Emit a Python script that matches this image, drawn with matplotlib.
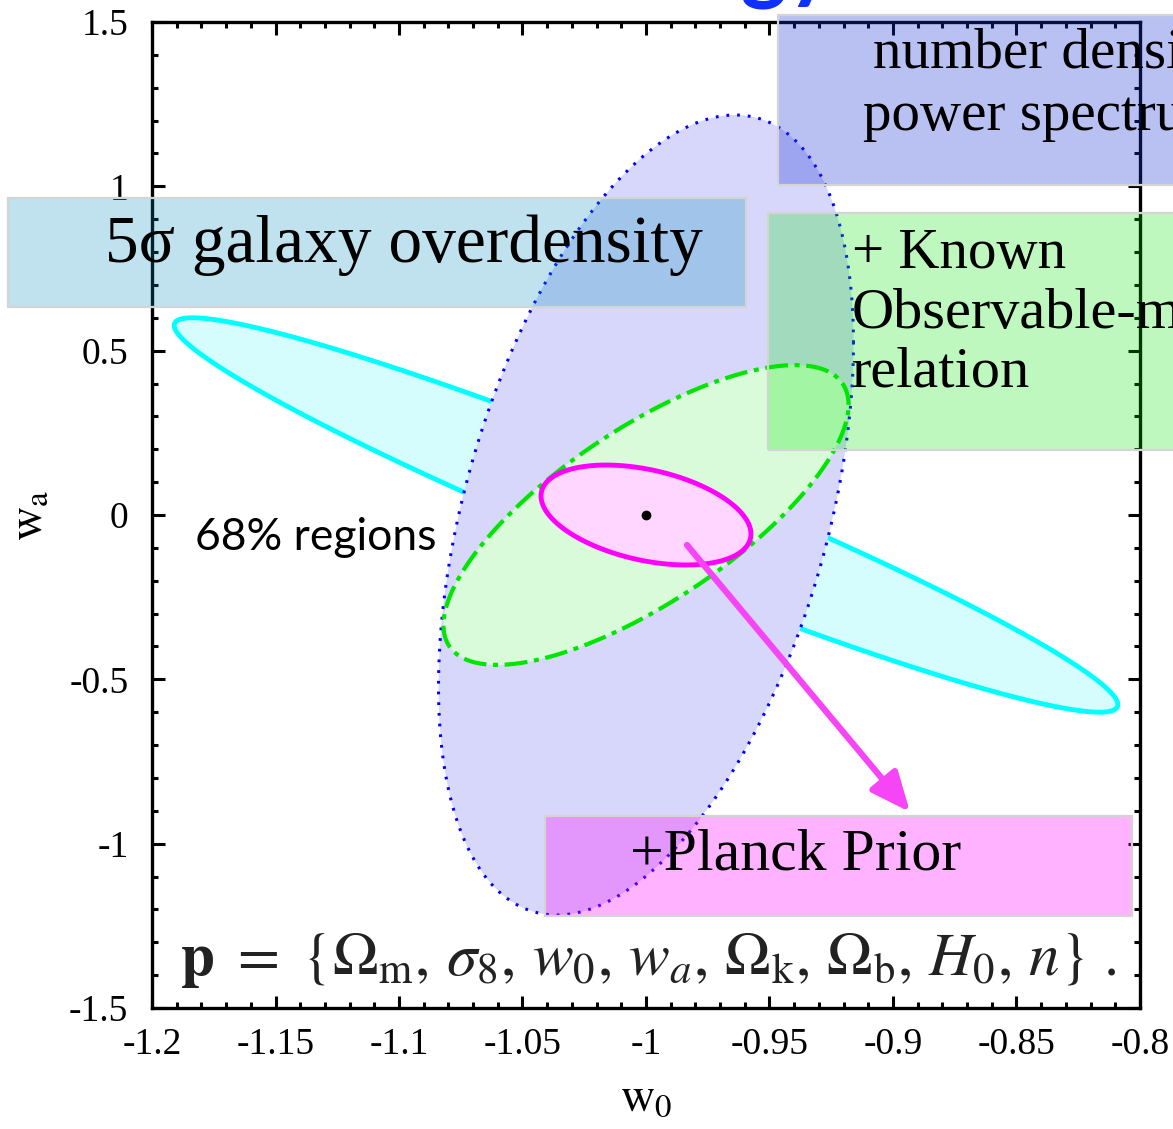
import numpy as np
import matplotlib
matplotlib.use("Agg")
import matplotlib.pyplot as plt
from matplotlib.patches import Rectangle

plt.rcParams["mathtext.fontset"] = "stix"

# Fiducial cosmology and 68% forecast ellipses in the (w0, wa) plane
fid_w0 = -1.0
fid_wa = 0.0
names = ["overdensity", "counts_power", "mass_observable", "planck"]
half_w0 = [0.191, 0.084, 0.082, 0.0425]    # projected half-extent along w0
half_wa = [0.600, 1.217, 0.456, 0.152]     # projected half-extent along wa
corr = [-0.961, 0.43, 0.735, -0.38]        # w0-wa correlation coefficient

edge_colors = ["#00ffff", "#0000ff", "#00e600", "#ff00ff"]
fill_colors = ["#d6fdfd", "#d7d7fb", "#d9fbd9", "#ffd6ff"]
line_styles = ["-", (0, (0.9, 2.6)), (0, (5.5, 1.6, 1.2, 1.6)), "-"]
line_widths = [3.5, 2.2, 3.0, 3.5]

x_ticks = [-1.2, -1.15, -1.1, -1.05, -1.0, -0.95, -0.9, -0.85, -0.8]
x_tick_labels = ["-1.2", "-1.15", "-1.1", "-1.05", "-1", "-0.95", "-0.9", "-0.85", "-0.8"]
y_ticks = [-1.5, -1.0, -0.5, 0.0, 0.5, 1.0, 1.5]
y_tick_labels = ["-1.5", "-1", "-0.5", "0", "0.5", "1", "1.5"]

W, H = 1173, 1129
fig = plt.figure(figsize=(W / 100, H / 100), dpi=100)
fig.patch.set_facecolor("white")


def fx(px):
    return px / W


def fy(py):
    return 1 - py / H


ax = fig.add_axes([fx(152), fy(1008), fx(1140) - fx(152), fy(22) - fy(1008)])

t = np.linspace(0, 2 * np.pi, 600)
for i in range(len(names)):
    r = corr[i]
    xs = fid_w0 + half_w0[i] * np.cos(t)
    ys = fid_wa + half_wa[i] * (r * np.cos(t) + np.sqrt(1 - r * r) * np.sin(t))
    ax.fill(xs, ys, facecolor=fill_colors[i], edgecolor=edge_colors[i],
            lw=line_widths[i], ls=line_styles[i], zorder=2 + i)

ax.plot([fid_w0], [fid_wa], "o", color="black", ms=6, zorder=10)

ax.set_xlim(-1.2, -0.8)
ax.set_ylim(-1.5, 1.5)
ax.set_xticks(x_ticks)
ax.set_xticklabels(x_tick_labels)
ax.set_yticks(y_ticks)
ax.set_yticklabels(y_tick_labels)
ax.set_xticks(np.arange(-1.2, -0.7999, 0.01), minor=True)
ax.set_yticks(np.arange(-1.5, 1.5001, 0.1), minor=True)
ax.tick_params(which="both", direction="in", top=True, right=True, width=2.2,
               labelsize=27)
ax.tick_params(which="major", length=9)
ax.tick_params(which="minor", length=4.5)
ax.tick_params(axis="y", pad=17)
ax.tick_params(axis="x", pad=14)
for lab in ax.get_xticklabels() + ax.get_yticklabels():
    lab.set_family("Liberation Serif")
for sp in ax.spines.values():
    sp.set_linewidth(2.4)

ax.set_xlabel(r"$\mathrm{w}_0$", fontsize=34, labelpad=10)
ax.set_ylabel(r"$\mathrm{w}_\mathrm{a}$", fontsize=34, labelpad=12)

# parameter vector of the Fisher forecast
ax.text(0.028, 0.033,
        r"$\mathbf{p}\ =\ \{\Omega_\mathrm{m},\, \sigma_8,\, w_0,\, w_a,\, \Omega_\mathrm{k},\, "
        r"\Omega_\mathrm{b},\, H_0,\, n\}\ .$",
        transform=ax.transAxes, fontsize=44, color="#222222", va="baseline", zorder=12)

fig.text(fx(195), fy(550), "68% regions", family="Lato", fontsize=32,
         va="baseline", ha="left", zorder=20)

# arrow pointing from the Planck ellipse to its caption
ax.annotate("", xy=(fx(910), fy(812)), xycoords="figure fraction",
            xytext=(fx(687), fy(545)), textcoords="figure fraction",
            arrowprops=dict(arrowstyle="-|>,head_length=0.8,head_width=0.35",
                            lw=4.5, color="#f545f5", shrinkA=0, shrinkB=0,
                            mutation_scale=30), zorder=15)


def caption_box(x0, y0, x1, y1, color, alpha):
    fig.add_artist(Rectangle((fx(x0), fy(y1)), fx(x1) - fx(x0), fy(y0) - fy(y1),
                             transform=fig.transFigure, facecolor=color, alpha=alpha,
                             edgecolor="none", zorder=30))
    fig.add_artist(Rectangle((fx(x0), fy(y1)), fx(x1) - fx(x0), fy(y0) - fy(y1),
                             transform=fig.transFigure, facecolor="none",
                             edgecolor="#d4d4d4", lw=1.6, zorder=31))


caption_box(8, 198, 746, 307, (0.0, 0.55, 0.75), 0.25)
caption_box(778, 15, 1190, 185, (0.1, 0.2, 0.85), 0.30)
caption_box(768, 213, 1190, 450, (0.0, 0.9, 0.0), 0.25)
caption_box(545, 816, 1132, 916, (1.0, 0.0, 1.0), 0.30)

serif = "Liberation Serif"
fig.text(fx(105), fy(262), "5σ galaxy overdensity", family=serif, fontsize=48.5,
         va="baseline", ha="left", zorder=40)
fig.text(fx(1050), fy(68), "number density", family=serif, fontsize=41,
         va="baseline", ha="center", zorder=40)
fig.text(fx(1046), fy(130), "power spectrum", family=serif, fontsize=41,
         va="baseline", ha="center", zorder=40)
fig.text(fx(852), fy(268), "+ Known", family=serif, fontsize=41,
         va="baseline", ha="left", zorder=40)
fig.text(fx(852), fy(328), "Observable-mass", family=serif, fontsize=42,
         va="baseline", ha="left", zorder=40)
fig.text(fx(852), fy(387), "relation", family=serif, fontsize=42,
         va="baseline", ha="left", zorder=40)
fig.text(fx(796), fy(870), "+Planck Prior", family=serif, fontsize=43,
         va="baseline", ha="center", zorder=40)

fig.text(fx(835), fy(-9), "Cosmology", family="Lato", fontweight="bold",
         fontsize=64, color="#1030ff", ha="right", va="baseline", zorder=40)

fig.savefig("out.png", dpi=100)
